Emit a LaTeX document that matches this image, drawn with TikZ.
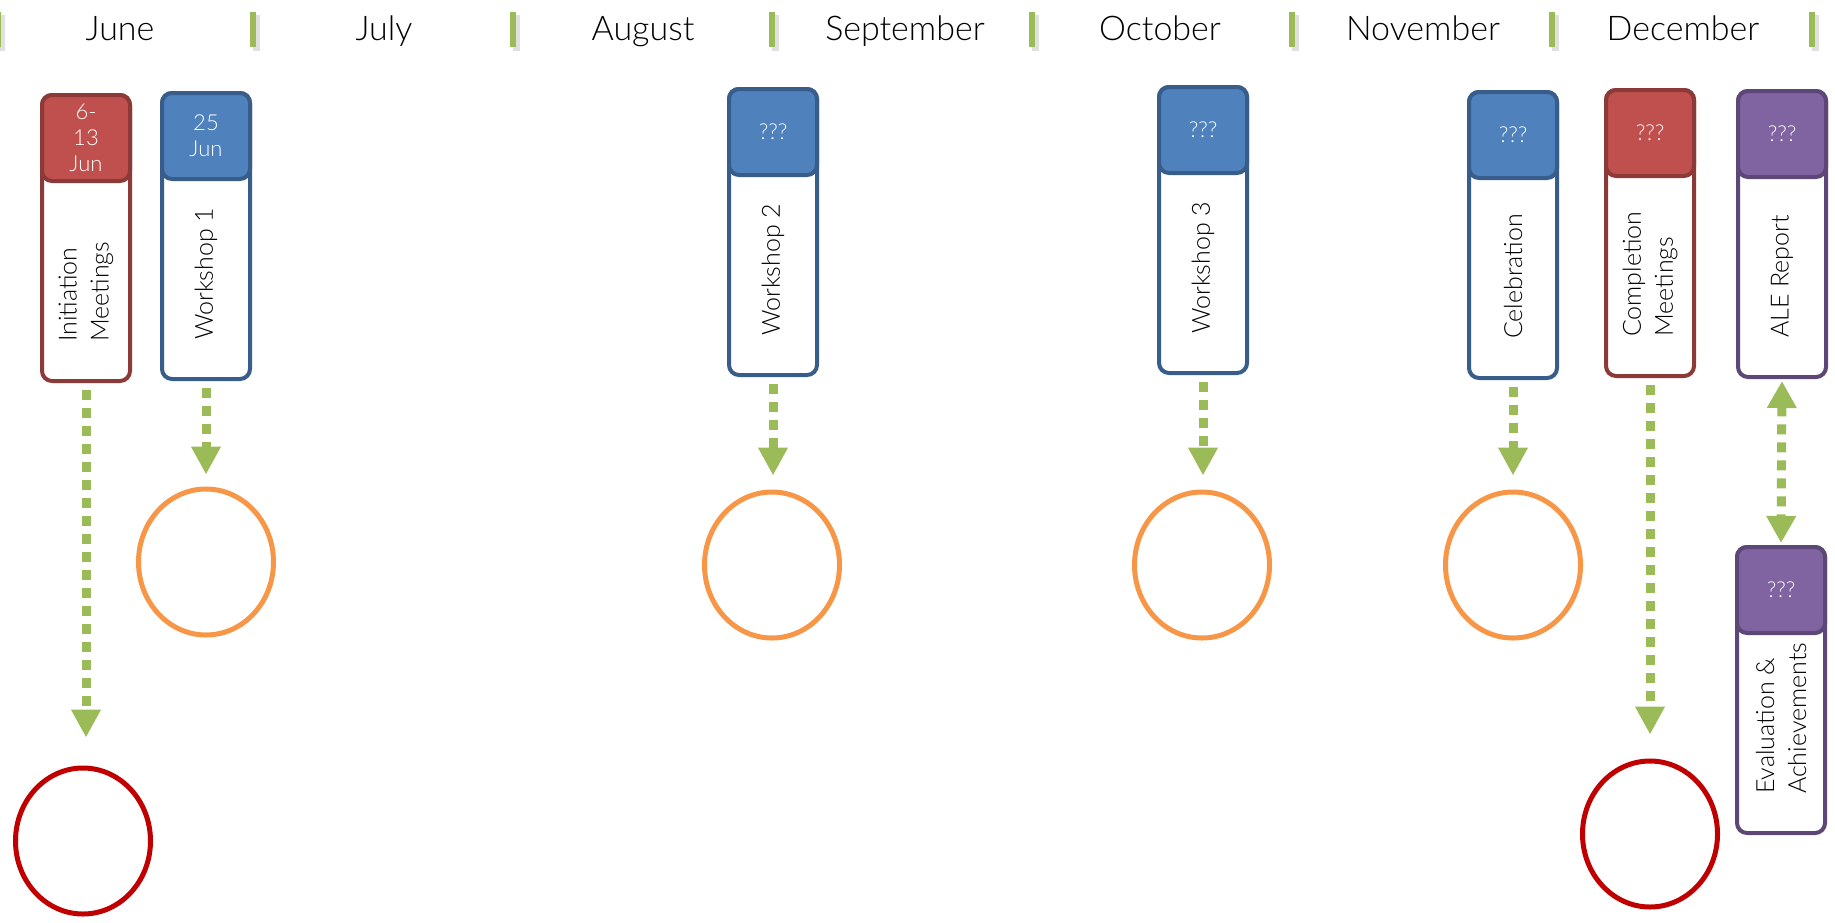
\documentclass[tikz,border=0pt]{standalone}
\usepackage{fontspec}
\setmainfont{Lato}[UprightFont=* Light]
\usetikzlibrary{arrows.meta,shapes.geometric}

\definecolor{hdred}{HTML}{C0504D}
\definecolor{lnred}{HTML}{8C3A37}
\definecolor{hdblue}{HTML}{4F81BD}
\definecolor{lnblue}{HTML}{385D8A}
\definecolor{hdpurple}{HTML}{8064A2}
\definecolor{lnpurple}{HTML}{5C4776}
\definecolor{flowgreen}{HTML}{9BBB59}
\definecolor{ringorange}{HTML}{F79646}
\definecolor{ringred}{HTML}{C00000}

\begin{document}
\begin{tikzpicture}[x=0.5pt,y=-0.5pt,
    month/.style={font=\fontsize{17}{20}\selectfont,anchor=base},
    bodybox/.style={draw,fill=white,line width=2pt,rounded corners=5pt,
      minimum width=44pt,minimum height=143pt,anchor=north},
    headbox/.style={draw,line width=2pt,rounded corners=5pt,minimum width=44pt,
      minimum height=43pt,anchor=north,text=white,align=center,
      font=\fontsize{11}{13}\selectfont},
    bodytext/.style={rotate=90,anchor=west,align=left,
      font=\fontsize{12.5}{16}\selectfont},
    ring/.style={ellipse,draw,line width=2.5pt,minimum width=67.5pt,minimum height=73pt},
    flow/.style={draw=flowgreen,line width=4.5pt,dash pattern=on 5pt off 4pt,
      shorten <=3.5pt,-{Triangle[length=14pt,width=14pt]}}]
  \useasboundingbox (0,0) rectangle (1835,922);

  % timeline
  \foreach \x in {-2,253,513,772,1032,1292,1552,1812} {
    \fill[black,opacity=0.12] (\x,15) rectangle ++(7,36);
    \fill[flowgreen] (\x-3,12) rectangle ++(6,35);
  }
  \foreach \i/\x/\m in {1/120/June,2/384/July,3/643/August,4/905/September,
                        5/1160/October,6/1423/November,7/1683/December} {
    \node[month] (month-\i) at (\x,40) {\m};
  }

  % events
  \foreach \n/\x/\t/\c/\h/\b in {
      init/86/93/red/{6-\\13\\Jun}/{Initiation\\Meetings},
      ws1/206/91/blue/{25\\Jun}/{Workshop 1},
      ws2/773/87/blue/{???}/{Workshop 2},
      ws3/1203/85/blue/{???}/{Workshop 3},
      celeb/1513/90/blue/{???}/{Celebration},
      compl/1650/88/red/{???}/{Completion\\Meetings},
      ale/1782/89/purple/{???}/{ALE Report},
      eval/1781/545/purple/{???}/{Evaluation \&\\Achievements}} {
    \node[bodybox,draw=ln\c] (\n) at (\x,\t) {};
    \node[headbox,fill=hd\c,draw=ln\c] (\n-h) at (\n.north) {\h};
    \node[bodytext] (\n-t) at ([yshift=17pt]\n.south) {\b};
  }

  % outcomes
  \foreach \n/\x/\y/\c in {init/83/841/ringred,ws1/206/562/ringorange,
      ws2/772/565/ringorange,ws3/1202/565/ringorange,
      celeb/1513/565/ringorange,compl/1650/834/ringred} {
    \node[ring,draw=\c] (\n-c) at (\x,\y) {};
  }

  \foreach \n/\s in {init/14pt,ws1/6pt,ws2/7pt,ws3/7pt,celeb/7pt,compl/12pt} {
    \draw[flow,shorten >=\s] (\n.south) -- (\n.south |- \n-c.north);
  }
  \draw[flow,{Triangle[length=13.5pt,width=14pt]}-{Triangle[length=13.5pt,width=14pt]},
        shorten <=1pt,shorten >=1pt] (ale.south) -- (eval.north);
\end{tikzpicture}
\end{document}
